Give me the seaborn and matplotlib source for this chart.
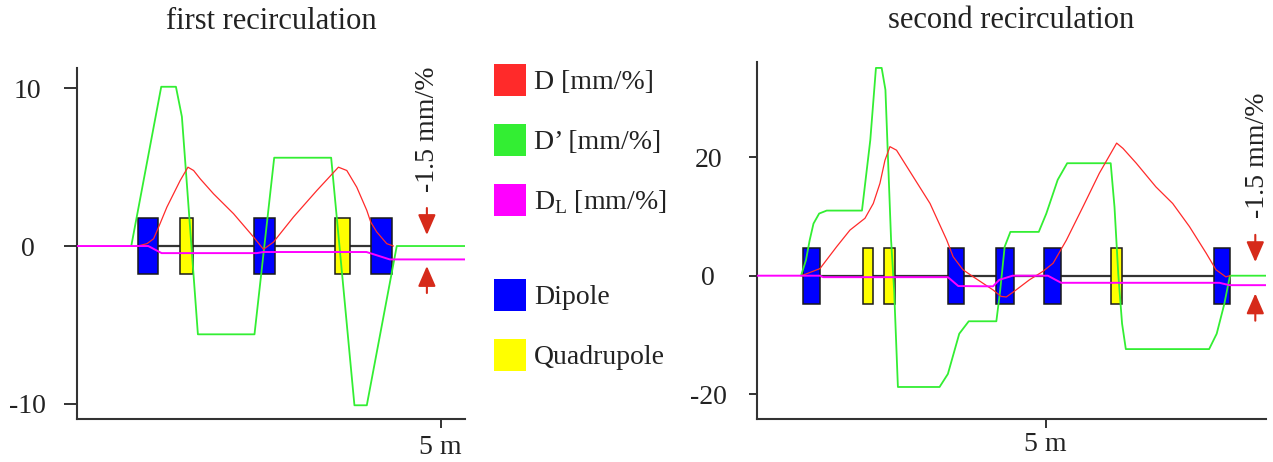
import numpy as np
import pandas as pd
import matplotlib
matplotlib.use("Agg")
import matplotlib.pyplot as plt
from matplotlib.patches import Patch
import seaborn as sns

# ---------------- data ----------------
# first recirculation (s in m, dispersion values)
left_D_s = [0.833, 0.962, 1.053, 1.122, 1.236, 1.419, 1.525, 1.603, 1.694, 1.877, 2.152, 2.427, 2.564,
            2.701, 2.976, 3.297, 3.594, 3.709, 3.846, 3.984, 4.038, 4.121, 4.258, 4.35]
left_D = [0.0, 0.15, 0.46, 1.2, 2.47, 4.16, 5.0, 4.79, 4.26, 3.31, 2.05, 0.57, -0.21,
          0.25, 1.84, 3.52, 5.0, 4.79, 3.73, 2.26, 1.52, 0.89, 0.15, 0.0]
left_Dp_s = [0.746, 1.158, 1.360, 1.442, 1.511, 1.662, 2.440, 2.711, 3.494, 3.814, 3.984, 4.396, 5.334]
left_Dp = [0.0, 10.1, 10.1, 8.2, 3.9, -5.6, -5.6, 5.6, 5.6, -10.1, -10.1, 0.0, 0.0]
left_DL_s = [0.0, 0.98, 1.163, 2.47, 2.56, 3.98, 4.30, 5.334]
left_DL = [0.0, 0.0, -0.45, -0.45, -0.38, -0.38, -0.85, -0.85]
left_mag_type = ["Dipole", "Quadrupole", "Dipole", "Quadrupole", "Dipole"]
left_mag_start = [0.833, 1.41, 2.44, 3.55, 4.04]
left_mag_end = [1.117, 1.60, 2.72, 3.75, 4.33]

# second recirculation
right_D_s = [0.778, 1.095, 1.384, 1.614, 1.874, 2.018, 2.133, 2.22, 2.306, 2.42, 2.71, 3.0, 3.29, 3.40,
             3.57, 3.75, 3.92, 4.09, 4.23, 4.32, 4.49, 4.72, 4.95, 5.13, 5.36, 5.65, 5.93, 6.13, 6.23,
             6.34, 6.57, 6.91, 7.2, 7.49, 7.78, 7.95, 8.12, 8.19]
right_D = [0.0, 1.2, 4.9, 7.7, 9.7, 12.2, 15.6, 19.5, 21.8, 21.2, 16.7, 12.2, 6.0, 3.2,
           1.0, -0.2, -1.3, -2.4, -3.5, -3.6, -2.4, -0.7, 0.7, 2.1, 6.0, 11.7, 17.3, 20.7, 22.4,
           21.5, 19.0, 15.0, 12.2, 8.3, 3.8, 1.0, -0.2, 0.0]
right_Dp_s = [0.767, 0.852, 0.917, 0.983, 1.081, 1.212, 1.822, 1.966, 2.064, 2.163, 2.228, 2.326, 2.379,
              2.444, 3.165, 3.309, 3.506, 3.670, 4.148, 4.214, 4.292, 4.391, 4.882, 5.013, 5.210, 5.374,
              6.127, 6.193, 6.258, 6.324, 6.389, 7.831, 7.962, 8.093, 8.191, 8.814]
right_Dp = [0.0, 2.6, 6.0, 8.8, 10.5, 11.0, 11.0, 22.9, 35.1, 35.1, 31.4, 6.0, -2.5,
            -18.8, -18.8, -16.6, -9.8, -7.7, -7.7, -2.5, 4.9, 7.4, 7.4, 10.5, 16.2, 19.0,
            19.0, 11.6, 0.3, -8.1, -12.4, -12.4, -9.8, -4.8, 0.0, 0.0]
right_DL_s = [0.0, 1.095, 1.15, 3.31, 3.49, 4.09, 4.20, 4.43, 5.04, 5.27, 8.01, 8.18, 8.814]
right_DL = [0.0, 0.0, -0.25, -0.25, -1.75, -1.8, -0.7, 0.0, 0.0, -1.2, -1.2, -1.6, -1.6]
right_mag_type = ["Dipole", "Quadrupole", "Quadrupole", "Dipole", "Dipole", "Dipole", "Quadrupole", "Dipole"]
right_mag_start = [0.806, 1.834, 2.208, 3.304, 4.146, 4.971, 6.135, 7.907]
right_mag_end = [1.095, 2.018, 2.393, 3.592, 4.446, 5.265, 6.315, 8.194]

titles = ["first recirculation", "second recirculation"]
left_yticks = [10, 0, -10]
left_yticklabels = ["10", "0", "-10"]
right_yticks = [20, 0, -20]
right_yticklabels = ["20", "0", "-20"]
xtick_pos = [5]
xtick_labels = ["5 m"]
annot_text = "-1.5 mm/%"
legend_labels = ["D [mm/%]", "D\u2019 [mm/%]", "D$_{\\mathregular{L}}$ [mm/%]"]
magnet_labels = ["Dipole", "Quadrupole"]

# ---------------- style ----------------
sns.set_theme(style="ticks")
plt.rcParams["font.family"] = ["Liberation Serif", "DejaVu Serif"]
plt.rcParams["axes.unicode_minus"] = False
TXT = "#222222"
C_D = "#ff2a2a"
C_DP = "#33ee33"
C_DL = "#ff00ff"
C_DIP = "#0000ff"
C_QUAD = "#ffff00"
C_ARROW = "#d62a1a"
mag_colors = {"Dipole": C_DIP, "Quadrupole": C_QUAD}

fig = plt.figure(figsize=(12.73, 4.62), dpi=100)
ax1 = fig.add_axes([77 / 1273, 43 / 462, 388 / 1273, 351 / 462])
ax2 = fig.add_axes([756.7 / 1273, 42.7 / 462, 509 / 1273, 357.6 / 462])


def draw_panel(ax, D_s, D, Dp_s, Dp, DL_s, DL, mtype, mstart, mend, half_h):
    # beamline axis
    ax.plot([min(mstart), max(mend)], [0, 0], color="#333333", lw=1.6, zorder=1)
    # magnets
    starts = np.array(mstart)
    widths = np.array(mend) - starts
    cols = [mag_colors[t] for t in mtype]
    ax.bar(starts, 2 * half_h, width=widths, bottom=-half_h, align="edge",
           color=cols, edgecolor="#1a1a1a", linewidth=1.1, zorder=2)
    # curves
    sns.lineplot(data=pd.DataFrame({"s": Dp_s, "v": Dp}), x="s", y="v", ax=ax, color=C_DP,
                 linewidth=1.3, sort=False, estimator=None, zorder=3)
    sns.lineplot(data=pd.DataFrame({"s": D_s, "v": D}), x="s", y="v", ax=ax, color=C_D,
                 linewidth=0.9, sort=False, estimator=None, zorder=4)
    sns.lineplot(data=pd.DataFrame({"s": DL_s, "v": DL}), x="s", y="v", ax=ax, color=C_DL,
                 linewidth=1.4, sort=False, estimator=None, zorder=5)
    ax.set_xlabel("")
    ax.set_ylabel("")
    sns.despine(ax=ax)
    for sp in ("left", "bottom"):
        ax.spines[sp].set_color("#333333")
        ax.spines[sp].set_linewidth(1.5)


draw_panel(ax1, left_D_s, left_D, left_Dp_s, left_Dp, left_DL_s, left_DL,
           left_mag_type, left_mag_start, left_mag_end, 1.8)
draw_panel(ax2, right_D_s, right_D, right_Dp_s, right_Dp, right_DL_s, right_DL,
           right_mag_type, right_mag_start, right_mag_end, 4.7)

ax1.set_xlim(0, 5.334)
ax1.set_ylim(-10.97, 11.29)
ax2.set_xlim(0, 8.81)
ax2.set_ylim(-24.26, 36.15)

for ax, yt, ytl, ylen, ypad, xpad in [(ax1, left_yticks, left_yticklabels, 9.5, 26, 5.0),
                                       (ax2, right_yticks, right_yticklabels, 6.0, 29, 3.0)]:
    ax.set_yticks(yt)
    ax.set_yticklabels(ytl)
    ax.set_xticks(xtick_pos)
    ax.set_xticklabels(xtick_labels)
    ax.tick_params(axis="y", length=ylen, width=1.4, pad=ypad, colors="#333333", labelcolor=TXT, labelsize=20)
    ax.tick_params(axis="x", length=6.5, width=1.4, pad=xpad, colors="#333333", labelcolor=TXT, labelsize=20)
    for lab in ax.get_yticklabels():
        lab.set_horizontalalignment("center")

ax1.set_title(titles[0], fontsize=22, color=TXT, pad=28)
ax2.set_title(titles[1], fontsize=22, color=TXT, pad=24)

# annotations: D_L offset
arrow_kw = dict(arrowstyle="-|>,head_length=0.62,head_width=0.27", color=C_ARROW, lw=1.5,
                mutation_scale=20, shrinkA=0, shrinkB=0)
ax1.annotate("", xy=(4.81, 0.70), xytext=(4.81, 2.41), arrowprops=arrow_kw, annotation_clip=False)
ax1.annotate("", xy=(4.81, -1.27), xytext=(4.81, -2.98), arrowprops=arrow_kw, annotation_clip=False)
ax1.text(4.82, 7.42, annot_text, rotation=90, ha="center", va="center", fontsize=20, color=TXT)

ax2.annotate("", xy=(8.63, 2.3), xytext=(8.63, 6.9), arrowprops=arrow_kw, annotation_clip=False)
ax2.annotate("", xy=(8.63, -3.0), xytext=(8.63, -7.6), arrowprops=arrow_kw, annotation_clip=False)
ax2.text(8.67, 20.4, annot_text, rotation=90, ha="center", va="center", fontsize=20, color=TXT,
         clip_on=False)

# legends
h1 = [Patch(facecolor=c, edgecolor="none") for c in (C_D, C_DP, C_DL)]
h2 = [Patch(facecolor=c, edgecolor="none") for c in (C_DIP, C_QUAD)]
leg_kw = dict(loc="upper left", frameon=False, borderpad=0, borderaxespad=0, handlelength=1.15,
              handleheight=1.395, handletextpad=0.29, labelspacing=1.0, fontsize=20, labelcolor=TXT)
fig.legend(h1, legend_labels, bbox_to_anchor=(494 / 1273, 1 - 64 / 462), **leg_kw)
fig.legend(h2, magnet_labels, bbox_to_anchor=(494 / 1273, 1 - 279 / 462), **leg_kw)

fig.savefig("out.png", dpi=100)
